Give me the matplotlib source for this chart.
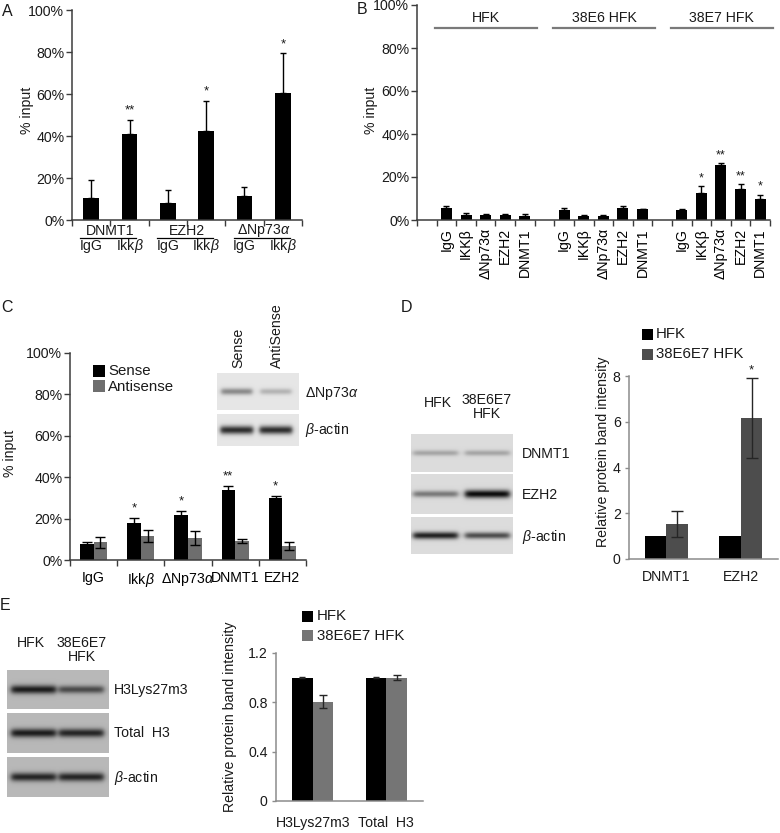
import numpy as np
import matplotlib
matplotlib.use('Agg')
import matplotlib.pyplot as plt
from matplotlib.patches import Rectangle

# ---------------- data ----------------
A_groups = ['DNMT1', 'EZH2', 'ΔNp73$\\alpha$']
A_conditions = ['IgG', 'Ikk$\\beta$']
A_values = [10.7, 40.9, 8.3, 42.5, 11.4, 60.6]
A_errors = [8.2, 6.7, 5.9, 14.2, 4.5, 18.8]
A_stars = ['', '**', '', '*', '', '*']

B_groups = ['HFK', '38E6 HFK', '38E7 HFK']
B_targets = ['IgG', 'IKKβ', 'ΔNp73α', 'EZH2', 'DNMT1']
B_hfk = [5.4, 2.3, 2.3, 2.3, 1.8]
B_hfk_err = [1.1, 1.0, 0.4, 0.4, 1.0]
B_38e6 = [4.6, 2.0, 2.0, 5.4, 4.9]
B_38e6_err = [0.8, 0.3, 0.3, 1.0, 0.3]
B_38e7 = [4.6, 12.6, 25.8, 14.2, 9.8]
B_38e7_err = [0.3, 3.1, 0.8, 2.4, 2.0]
B_38e7_stars = ['', '*', '**', '**', '*']

C_categories = ['IgG', 'Ikk$\\beta$', 'ΔNp73$\\alpha$', 'DNMT1', 'EZH2']
C_sense = [7.5, 18.1, 21.6, 33.9, 29.8]
C_sense_err = [1.2, 2.4, 2.1, 1.9, 1.1]
C_antisense = [8.5, 11.5, 10.7, 9.1, 6.7]
C_antisense_err = [2.7, 2.9, 3.4, 0.9, 1.8]
C_stars = ['', '*', '*', '**', '*']
C_series = ['Sense', 'Antisense']
C_blot_lanes = ['Sense', 'AntiSense']
C_blot_rows = ['ΔNp73$\\alpha$', '$\\beta$-actin']
C_blot_bands = [[0.40, 0.22], [0.80, 0.80]]

D_categories = ['DNMT1', 'EZH2']
D_hfk = [1.0, 1.0]
D_38e6e7 = [1.53, 6.15]
D_38e6e7_err = [0.55, 1.75]
D_stars = ['', '*']
D_series = ['HFK', '38E6E7 HFK']
D_blot_rows = ['DNMT1', 'EZH2', '$\\beta$-actin']
D_blot_bands = [[0.25, 0.25], [0.45, 0.95], [0.85, 0.65]]

E_categories = ['H3Lys27m3', 'Total  H3']
E_hfk = [1.0, 1.0]
E_hfk_err = [0.005, 0.005]
E_38e6e7 = [0.805, 1.0]
E_38e6e7_err = [0.052, 0.02]
E_series = ['HFK', '38E6E7 HFK']
E_blot_rows = ['H3Lys27m3', 'Total  H3', '$\\beta$-actin']
E_blot_bands = [[0.85, 0.60], [0.85, 0.80], [0.80, 0.80]]

blot_lane_labels = ['HFK', '38E6E7\nHFK']

# ---------------- setup ----------------
plt.rcParams['font.family'] = ['Liberation Sans', 'DejaVu Sans']
plt.rcParams['mathtext.fontset'] = 'custom'
plt.rcParams['mathtext.rm'] = 'Liberation Sans'
plt.rcParams['mathtext.it'] = 'Liberation Sans:italic'
FS = 10.2
plt.rcParams['font.size'] = FS

W, H = 780, 833
fig = plt.figure(figsize=(W / 100, H / 100), dpi=100)
fig.patch.set_facecolor('white')
TXT = '#1a1a1a'


def add_ax(l, t, r, b):
    return fig.add_axes([l / W, 1 - b / H, (r - l) / W, (b - t) / H])


def ftext(x, y, s, **kw):
    kw.setdefault('color', TXT)
    fig.text(x / W, 1 - y / H, s, **kw)


def frect(x, y, w, h, color):
    fig.patches.append(Rectangle((x / W, 1 - (y + h) / H), w / W, h / H,
                                 transform=fig.transFigure, facecolor=color,
                                 edgecolor='none'))


def style_axes(ax, spine_color):
    for s in ['top', 'right']:
        ax.spines[s].set_visible(False)
    for s in ['left', 'bottom']:
        ax.spines[s].set_color(spine_color)
        ax.spines[s].set_linewidth(1.1)
    ax.tick_params(colors=spine_color, labelcolor=TXT, labelsize=FS, length=4, width=1)
    ax.tick_params(axis='y', pad=1.5)


def blot(l, t, r, b, bands, bg, centers=(0.25, 0.75), half=0.21, sigma=0.10):
    ax = add_ax(l, t, r, b)
    w, h = int(r - l) * 2, int(b - t) * 2
    xs = np.linspace(0, 1, w)[None, :]
    ys = np.linspace(0, 1, h)[:, None]
    img = np.full((h, w), bg)
    for c, s in zip(centers, bands):
        lane = 1 / (1 + np.exp(-(xs - (c - half)) / 0.015)) * 1 / (1 + np.exp((xs - (c + half)) / 0.015))
        prof = np.exp(-((ys - 0.5) / (sigma * (0.8 + 0.5 * s))) ** 2)
        img = img - bg * s * lane * prof
    ax.imshow(np.clip(img, 0, 1), cmap='gray', vmin=0, vmax=1, aspect='auto',
              interpolation='bilinear', extent=(0, 1, 0, 1))
    ax.set_axis_off()
    return ax


pct = ['0%', '20%', '40%', '60%', '80%', '100%']

# ---------------- Panel A ----------------
axA = add_ax(72, 10, 302, 220)
style_axes(axA, '#3c3c3c')
xa = np.arange(len(A_values))
axA.bar(xa, A_values, width=0.4, color='black', zorder=2)
axA.errorbar(xa, A_values, yerr=[np.zeros(len(A_values)), A_errors], fmt='none',
             ecolor='black', elinewidth=1, capsize=2.5, capthick=1, zorder=1)
for x, v, e, s in zip(xa, A_values, A_errors, A_stars):
    if s:
        axA.text(x, v + e + 1.5, s, ha='center', va='bottom', fontsize=9.5, color=TXT)
axA.set_xlim(-0.5, 5.5)
axA.set_ylim(0, 100)
axA.set_yticks(np.arange(0, 101, 20))
axA.set_yticklabels(pct)
axA.set_xticks(np.arange(-0.5, 5.6, 1))
axA.set_xticklabels([])
trA = axA.get_xaxis_transform()
for i, g in enumerate(A_groups):
    c = 2 * i + 0.5
    axA.text(c, -0.052, g, transform=trA, ha='center', va='center', fontsize=FS, color=TXT)
    axA.plot([c - 0.78, c + 0.68], [-0.088, -0.088], transform=trA, color='black', lw=0.9, clip_on=False)
    for j, cond in enumerate(A_conditions):
        axA.text(2 * i + j, -0.126, cond, transform=trA, ha='center', va='center', fontsize=FS, color=TXT)
ftext(27, 110, '% input', rotation=90, ha='center', va='center', fontsize=FS)
ftext(7, 12, 'A', ha='center', va='center', fontsize=11.5)

# ---------------- Panel B ----------------
axB = add_ax(417, 5, 770, 220)
style_axes(axB, '#3c3c3c')
B_sets = [(B_hfk, B_hfk_err), (B_38e6, B_38e6_err), (B_38e7, B_38e7_err)]
labpos, labtxt = [], []
for gi, (vals, errs) in enumerate(B_sets):
    xb = np.arange(len(vals)) + 6 * gi
    axB.bar(xb, vals, width=0.56, color='black', zorder=2)
    axB.errorbar(xb, vals, yerr=[np.zeros(len(vals)), errs], fmt='none', ecolor='black',
                 elinewidth=1, capsize=2.5, capthick=1, zorder=1)
    labpos += list(xb)
    labtxt += B_targets
    axB.plot([6 * gi - 0.56, 6 * gi + 4.64], [89.3, 89.3], color='#7a7a7a', lw=1.6, clip_on=False)
    axB.text(6 * gi + 2.04, 94.0, B_groups[gi], ha='center', va='center', fontsize=FS, color=TXT)
for i, s in enumerate(B_38e7_stars):
    if s:
        axB.text(12 + i, B_38e7[i] + B_38e7_err[i] + 0.8, s, ha='center', va='bottom', fontsize=9, color=TXT)
axB.set_xlim(-1.5, 16.5)
axB.set_ylim(0, 100)
axB.set_yticks(np.arange(0, 101, 20))
axB.set_yticklabels(pct)
axB.set_xticks(np.arange(-1.5, 16.6, 1))
axB.set_xticklabels([])
axB.set_xticks(labpos, minor=True)
axB.set_xticklabels(labtxt, minor=True, rotation=90, fontsize=FS)
axB.tick_params(axis='x', which='minor', length=0, pad=6)
ftext(371, 110, '% input', rotation=90, ha='center', va='center', fontsize=FS)
ftext(362, 9, 'B', ha='center', va='center', fontsize=11.5)

# ---------------- Panel C ----------------
axC = add_ax(70, 353, 306, 560)
style_axes(axC, '#3c3c3c')
xc = np.arange(len(C_categories))
cw = 0.29
C_gray = '#6e6e6e'
axC.bar(xc - cw / 2, C_sense, width=cw, color='black', zorder=2)
axC.bar(xc + cw / 2, C_antisense, width=cw, color=C_gray, zorder=2)
axC.errorbar(xc - cw / 2, C_sense, yerr=C_sense_err, fmt='none', ecolor='black',
             elinewidth=1, capsize=3.5, capthick=1, zorder=3)
axC.errorbar(xc + cw / 2, C_antisense, yerr=C_antisense_err, fmt='none', ecolor='black',
             elinewidth=1, capsize=3.5, capthick=1, zorder=3)
for i, s in enumerate(C_stars):
    if s:
        axC.text(i - cw / 2, C_sense[i] + C_sense_err[i] + 1.5, s, ha='center', va='bottom', fontsize=9.5, color=TXT)
axC.set_xlim(-0.5, 4.5)
axC.set_ylim(0, 100)
axC.set_yticks(np.arange(0, 101, 20))
axC.set_yticklabels(pct)
axC.set_xticks(np.arange(-0.5, 4.6, 1))
axC.set_xticklabels([])
axC.set_xticks(xc, minor=True)
axC.set_xticklabels(C_categories, minor=True, fontsize=FS)
axC.tick_params(axis='x', which='minor', length=0, pad=8)
ftext(10, 453, '% input', rotation=90, ha='center', va='center', fontsize=FS)
ftext(7, 307, 'C', ha='center', va='center', fontsize=11.5)
# legend C
frect(93, 365, 12, 12, 'black')
frect(93, 380, 12, 12, C_gray)
ftext(108, 371, C_series[0], ha='left', va='center', fontsize=10.8)
ftext(108, 387, C_series[1], ha='left', va='center', fontsize=10.8)
# blot C
blot(217, 373, 299, 410, C_blot_bands[0], 0.90, centers=(0.24, 0.72), half=0.19, sigma=0.09)
blot(217, 414, 299, 446, C_blot_bands[1], 0.90, centers=(0.24, 0.72), half=0.20, sigma=0.11)
ftext(238, 368, C_blot_lanes[0], rotation=90, ha='center', va='bottom', fontsize=FS)
ftext(277, 368, C_blot_lanes[1], rotation=90, ha='center', va='bottom', fontsize=FS)
ftext(305, 393, C_blot_rows[0], ha='left', va='center', fontsize=FS)
ftext(305, 430, C_blot_rows[1], ha='left', va='center', fontsize=FS)

# ---------------- Panel D ----------------
axD = add_ax(629, 376, 778, 559)
style_axes(axD, '#8c8c8c')
xd = np.arange(len(D_categories))
dw = 0.29
D_gray = '#4d4d4d'
axD.bar(xd - dw / 2, D_hfk, width=dw, color='black', zorder=2)
axD.bar(xd + dw / 2, D_38e6e7, width=dw, color=D_gray, zorder=2)
axD.errorbar(xd + dw / 2, D_38e6e7, yerr=D_38e6e7_err, fmt='none', ecolor='#262626',
             elinewidth=1, capsize=4, capthick=1, zorder=3)
for i, s in enumerate(D_stars):
    if s:
        axD.text(i + dw / 2, D_38e6e7[i] + D_38e6e7_err[i] + 0.1, s, ha='center', va='bottom', fontsize=9.5, color=TXT)
axD.set_xlim(-0.5, 1.5)
axD.set_ylim(0, 8)
axD.set_yticks([0, 2, 4, 6, 8])
axD.set_xticks(xd)
axD.set_xticklabels(D_categories, fontsize=FS)
axD.tick_params(axis='x', length=0, pad=8)
axD.tick_params(axis='y', length=3, pad=3)
ftext(603, 452, 'Relative protein band intensity', rotation=90, ha='center', va='center', fontsize=FS)
ftext(406, 308, 'D', ha='center', va='center', fontsize=11.5)
frect(642, 329, 11, 11, 'black')
frect(642, 349, 11, 11, D_gray)
ftext(656, 334, D_series[0], ha='left', va='center', fontsize=10.8)
ftext(656, 354, D_series[1], ha='left', va='center', fontsize=10.8)
# blot D
d_rows = [(434, 472), (474, 514), (517, 554)]
d_lab_y = [454, 495, 537]
for (t, b), bands, lab, ly in zip(d_rows, D_blot_bands, D_blot_rows, d_lab_y):
    blot(411, t, 513, b, bands, 0.86, centers=(0.24, 0.75), half=0.22, sigma=0.08)
    ftext(522, ly, lab, ha='left', va='center', fontsize=FS)
ftext(438, 403, blot_lane_labels[0], ha='center', va='center', fontsize=FS)
ftext(487, 407, blot_lane_labels[1], ha='center', va='center', fontsize=FS, linespacing=1.0)

# ---------------- Panel E ----------------
axE = add_ax(276, 653, 423, 801)
style_axes(axE, '#8c8c8c')
xe = np.arange(len(E_categories))
ew = 0.28
E_gray = '#757575'
axE.bar(xe - ew / 2, E_hfk, width=ew, color='black', zorder=2)
axE.bar(xe + ew / 2, E_38e6e7, width=ew, color=E_gray, zorder=2)
axE.errorbar(xe - ew / 2, E_hfk, yerr=E_hfk_err, fmt='none', ecolor='#262626',
             elinewidth=1, capsize=2.5, capthick=1, zorder=3)
axE.errorbar(xe + ew / 2, E_38e6e7, yerr=E_38e6e7_err, fmt='none', ecolor='#262626',
             elinewidth=1, capsize=3, capthick=1, zorder=3)
axE.set_xlim(-0.5, 1.5)
axE.set_ylim(0, 1.2)
axE.set_yticks([0, 0.4, 0.8, 1.2])
axE.set_yticklabels(['0', '0.4', '0.8', '1.2'])
axE.set_xticks(xe)
axE.set_xticklabels(E_categories, fontsize=FS)
axE.tick_params(axis='x', length=0, pad=11)
axE.tick_params(axis='y', length=3, pad=3)
ftext(230, 717, 'Relative protein band intensity', rotation=90, ha='center', va='center', fontsize=FS)
ftext(5, 605, 'E', ha='center', va='center', fontsize=11.5)
frect(302, 611, 11, 11, 'black')
frect(302, 630, 11, 11, E_gray)
ftext(317, 616, E_series[0], ha='left', va='center', fontsize=10.8)
ftext(317, 636, E_series[1], ha='left', va='center', fontsize=10.8)
# blot E
e_rows = [(670, 709), (713, 753), (757, 797)]
e_lab_y = [690, 733, 778]
for (t, b), bands, lab, ly in zip(e_rows, E_blot_bands, E_blot_rows, e_lab_y):
    blot(7, t, 109, b, bands, 0.72, centers=(0.26, 0.73), half=0.22, sigma=0.09)
    ftext(114, ly, lab, ha='left', va='center', fontsize=FS)
ftext(31, 643, blot_lane_labels[0], ha='center', va='center', fontsize=FS)
ftext(82, 650, blot_lane_labels[1], ha='center', va='center', fontsize=FS, linespacing=1.0)

fig.savefig('out.png', dpi=100, facecolor='white')
